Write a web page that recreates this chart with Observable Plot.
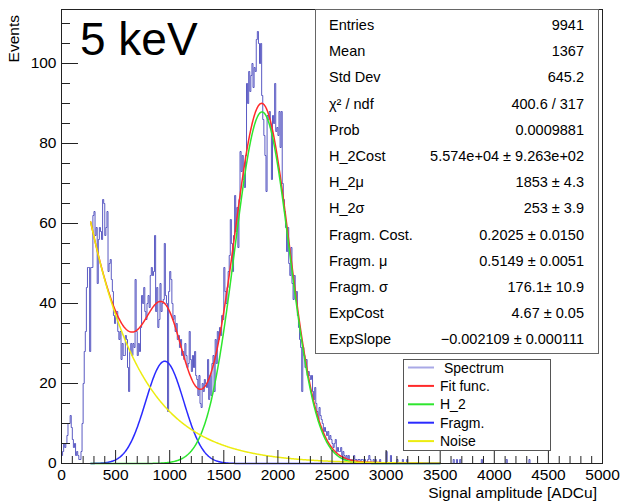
<!DOCTYPE html>
<html>
<head>
<meta charset="utf-8">
<script src="https://cdn.jsdelivr.net/npm/d3@7"></script>
<script src="https://cdn.jsdelivr.net/npm/@observablehq/plot@0.6"></script>
<style>
  body { margin: 0; background: #fff; }
  #chart { width: 622px; height: 504px; }
  #chart svg { display: block; }
</style>
</head>
<body>
<div id="chart"></div>
<script>
// Spectrum: 10 ADCu bins; counts for bins starting at 0, 10, ..., 2990
const binWidth = 10;
const binCounts = [
  2, 3, 5, 4, 5, 7, 10, 10, 12, 9,
  6, 4, 5, 2, 3, 2, 1, 1, 3, 10,
  20, 28, 33, 44, 49, 49, 28, 49, 49, 62,
  63, 57, 59, 45, 56, 59, 58, 56, 66, 65,
  57, 59, 63, 48, 50, 51, 46, 43, 37, 35,
  38, 38, 33, 31, 33, 26, 30, 27, 27, 32,
  31, 24, 18, 28, 30, 27, 30, 29, 46, 33,
  27, 30, 28, 34, 42, 40, 44, 38, 36, 40,
  42, 39, 47, 49, 47, 48, 57, 38, 44, 34,
  36, 45, 38, 40, 41, 55, 42, 40, 13, 43,
  48, 46, 40, 36, 37, 33, 35, 31, 32, 29,
  31, 27, 28, 26, 30, 27, 24, 25, 33, 26,
  23, 27, 24, 28, 22, 21, 17, 22, 15, 14,
  20, 18, 21, 20, 19, 26, 16, 22, 17, 25,
  27, 18, 31, 25, 33, 31, 34, 32, 37, 36,
  49, 43, 40, 44, 48, 52, 61, 55, 48, 57,
  67, 58, 64, 54, 66, 78, 73, 77, 71, 69,
  77, 95, 90, 98, 93, 97, 100, 94, 99, 98,
  106, 108, 105, 100, 105, 92, 86, 82, 77, 68,
  87, 86, 88, 84, 71, 87, 85, 95, 83, 84,
  82, 88, 79, 88, 70, 66, 63, 59, 53, 59,
  50, 47, 54, 45, 41, 47, 41, 43, 37, 34,
  31, 29, 18, 29, 27, 24, 26, 22, 23, 22,
  21, 22, 18, 16, 19, 15, 13, 11, 14, 12,
  11, 10, 8, 9, 8, 7, 8, 6, 7, 6,
  5, 4, 5, 6, 3, 4, 3, 3, 4, 2,
  3, 2, 1, 2, 1, 2, 1, 0, 1, 1,
  2, 1, 1, 0, 1, 1, 0, 1, 1, 0,
  1, 0, 0, 1, 2, 1, 0, 0, 1, 0,
  1, 0, 0, 0, 1, 0, 0, 0, 0, 0
];
// Sparse tail above 3000 ADCu: bin start and count
const tailBinStarts = [3000, 3040, 3100, 3150, 3190, 3620, 3650, 3680, 3880, 4110, 4320];
const tailBinCounts = [3, 2, 1, 1, 1, 1, 1, 1, 1, 1, 1];

// Fit results (H_2 gaussian + fragment gaussian + exponential noise)
const h2Params = [5.574e4, 1853, 253];          // Cost, mu, sigma
const fragParams = [0.2025, 0.5149, 176.1];     // Cost (rel. to H_2), mu (rel. to H_2), sigma
const expParams = [4.67, -0.002109];            // Cost, Slope
const fitRange = [270, 3500];

// Statistics box
const statLabels = ["Entries", "Mean", "Std Dev", "χ² / ndf", "Prob", "H_2Cost", "H_2μ", "H_2σ",
  "Fragm. Cost.", "Fragm. μ", "Fragm. σ", "ExpCost", "ExpSlope"];
const statValues = ["9941", "1367", "645.2", "400.6 / 317", "0.0009881", "5.574e+04 ± 9.263e+02",
  "1853 ± 4.3", "253 ± 3.9", "0.2025 ± 0.0150", "0.5149 ± 0.0051", "176.1± 10.9", "4.67 ± 0.05",
  "−0.002109 ± 0.000111"];

// Legend
const legendNames = ["Spectrum", "Fit func.", "H_2", "Fragm.", "Noise"];
const legendColors = ["#a9a9e6", "#ff2a2a", "#2ee62e", "#2a2aff", "#ecec10"];

// Axes
const xTicks = [0, 500, 1000, 1500, 2000, 2500, 3000, 3500, 4000, 4500, 5000];
const yTicks = [0, 20, 40, 60, 80, 100];
const xDomain = [0, 5000];
const yDomain = [0, 113.5];

// Full histogram over [0, 5000]
const nBins = (xDomain[1] - xDomain[0]) / binWidth;
const counts = new Array(nBins).fill(0);
binCounts.forEach((c, i) => { counts[i] = c; });
tailBinStarts.forEach((s, i) => { counts[Math.round(s / binWidth)] = tailBinCounts[i]; });
const spectrum = counts.map((c, i) => ({x: i * binWidth, y: c}));
spectrum.push({x: xDomain[1], y: counts[nBins - 1]});

// Fit components
const SQ2PI = Math.sqrt(2 * Math.PI);
const h2 = x => h2Params[0] / (SQ2PI * h2Params[2]) * Math.exp(-0.5 * ((x - h2Params[1]) / h2Params[2]) ** 2);
const fragMu = fragParams[1] * h2Params[1];
const frag = x => fragParams[0] * h2Params[0] / (SQ2PI * fragParams[2]) * Math.exp(-0.5 * ((x - fragMu) / fragParams[2]) ** 2);
const noise = x => Math.exp(expParams[0] + expParams[1] * x);
const fitX = d3.range(fitRange[0], fitRange[1] + 1, 5);
const curve = f => fitX.map(x => ({x, y: f(x)}));

const W = 622, H = 504;
const mL = 61, mR = 20, mT = 9, mB = 41;
const innerW = W - mL - mR, innerH = H - mT - mB;

const xMinor = d3.range(0, 5001, 100).filter(v => v % 500 !== 0);
const yMinor = d3.range(0, 111, 5).filter(v => v % 20 !== 0);

const font = "'Liberation Sans', Arial, Helvetica, sans-serif";

const chart = Plot.plot({
  width: W, height: H,
  marginLeft: mL, marginRight: mR, marginTop: mT, marginBottom: mB,
  x: {domain: xDomain},
  y: {domain: yDomain},
  style: {fontFamily: font, fontSize: "15.5px", color: "#000", background: "#fff"},
  marks: [
    Plot.lineY(spectrum, {x: "x", y: "y", curve: "step-after", stroke: "#4848bc", strokeWidth: 1, strokeOpacity: 0.9}),
    Plot.line(curve(x => h2(x) + frag(x) + noise(x)), {x: "x", y: "y", stroke: legendColors[1], strokeWidth: 1.5}),
    Plot.line(curve(frag), {x: "x", y: "y", stroke: legendColors[3], strokeWidth: 1.5}),
    Plot.line(curve(h2), {x: "x", y: "y", stroke: legendColors[2], strokeWidth: 1.5}),
    Plot.line(curve(noise), {x: "x", y: "y", stroke: legendColors[4], strokeWidth: 1.5}),
    Plot.tickX(xTicks, {stroke: "#222", insetTop: innerH - 13}),
    Plot.tickX(xMinor, {stroke: "#222", insetTop: innerH - 7}),
    Plot.tickY(yTicks, {stroke: "#222", insetRight: innerW - 17}),
    Plot.tickY(yMinor, {stroke: "#222", insetRight: innerW - 9}),
    Plot.axisX({ticks: xTicks, tickSize: 0, tickPadding: 5, tickFormat: "d", label: null}),
    Plot.axisY({ticks: yTicks, tickSize: 0, tickPadding: 5, tickFormat: "d", label: null}),
    Plot.frame({stroke: "#222"})
  ]
});
document.getElementById("chart").appendChild(chart);

// Overlay: titles, statistics box and legend
const svg = d3.select(chart);
const g = svg.append("g").attr("font-family", font).attr("fill", "#000").attr("text-anchor", "start");

g.append("text").attr("x", 80).attr("y", 55).attr("font-size", 46).text("5 keV");
g.append("text").attr("transform", "translate(18.5,15) rotate(-90)")
  .attr("text-anchor", "end").attr("font-size", 15.5).text("Events");
g.append("text").attr("x", 597).attr("y", 498).attr("text-anchor", "end")
  .attr("font-size", 15.5).text("Signal amplitude [ADCu]");

const stats = g.append("g");
stats.append("rect").attr("x", 315.5).attr("y", 9.5).attr("width", 283).attr("height", 344)
  .attr("fill", "#fff").attr("stroke", "#666").attr("stroke-width", 1);
statLabels.forEach((lab, i) => {
  const y = 30 + i * 26.2;
  stats.append("text").attr("x", 329).attr("y", y).attr("font-size", 14.5).text(lab);
  stats.append("text").attr("x", 584).attr("y", y).attr("font-size", 14.5)
    .attr("text-anchor", "end").text(statValues[i]);
});

const legend = g.append("g");
legend.append("rect").attr("x", 403.5).attr("y", 359.5).attr("width", 147).attr("height", 91)
  .attr("fill", "#fff").attr("stroke", "#555").attr("stroke-width", 1);
legendNames.forEach((name, i) => {
  const cy = 367.5 + i * 18.4;
  legend.append("line").attr("x1", 408).attr("x2", 434).attr("y1", cy).attr("y2", cy)
    .attr("stroke", legendColors[i]).attr("stroke-width", 2);
  legend.append("text").attr("x", i === 0 ? 444 : 440).attr("y", cy + 5).attr("font-size", 14).text(name);
});
</script>
</body>
</html>
